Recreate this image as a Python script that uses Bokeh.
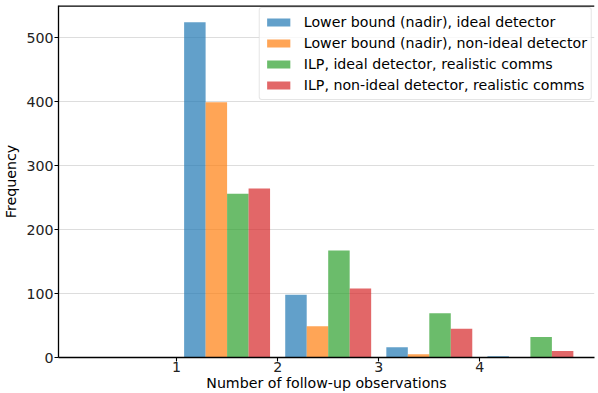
from bokeh.plotting import figure
from bokeh.models import ColumnDataSource, Range1d, FixedTicker, Legend, LegendItem, Span
from bokeh.transform import dodge
from bokeh.embed import file_html
from bokeh.resources import INLINE

# Data
bin_centers = [1.5, 2.5, 3.5, 4.5]
series_names = [
    "Lower bound (nadir), ideal detector",
    "Lower bound (nadir), non-ideal detector",
    "ILP, ideal detector, realistic comms",
    "ILP, non-ideal detector, realistic comms",
]
lb_ideal = [524, 98, 16, 2]
lb_nonideal = [399, 49, 5, 0]
ilp_ideal = [256, 167, 69, 32]
ilp_nonideal = [264, 108, 45, 10]
x_ticks = [1, 2, 3, 4]
y_ticks = [0, 100, 200, 300, 400, 500]
y_max = 550

colors = ["#1f77b4", "#ff7f0e", "#2ca02c", "#d62728"]
series = [lb_ideal, lb_nonideal, ilp_ideal, ilp_nonideal]

FONT = "DejaVu Sans"
FS = "14.2px"

p = figure(width=598, height=393, output_backend="svg", toolbar_location=None,
           x_range=Range1d(-0.1675, 5.134), y_range=Range1d(0, y_max),
           min_border_left=57, min_border_right=4, min_border_top=5, min_border_bottom=36)

source = ColumnDataSource(dict(x=bin_centers, s0=series[0], s1=series[1], s2=series[2], s3=series[3]))

bw = 0.85 / 4
offsets = [-1.5 * bw, -0.5 * bw, 0.5 * bw, 1.5 * bw]
items = []
for i in range(4):
    r = p.vbar(x=dodge("x", offsets[i], range=p.x_range), top="s%d" % i, width=bw, bottom=0,
               source=source, fill_color=colors[i], fill_alpha=0.7, line_color=None)
    items.append(LegendItem(label=series_names[i], renderers=[r]))

legend = Legend(items=items, location="top_right")
legend.label_text_font = FONT
legend.label_text_font_size = FS
legend.label_text_color = "#000000"
legend.glyph_width = 29
legend.glyph_height = 10
legend.label_height = 20
legend.label_standoff = 11
legend.spacing = 1
legend.padding = 4
legend.margin = 2
legend.border_line_color = "#cccccc"
legend.border_line_width = 1
legend.border_radius = 3
legend.background_fill_color = "white"
legend.background_fill_alpha = 0.8
p.add_layout(legend)

for ax in [p.xaxis[0], p.yaxis[0]]:
    ax.axis_line_color = "black"
    ax.axis_line_width = 1.3
    ax.major_tick_line_color = "black"
    ax.major_tick_line_width = 1.1
    ax.major_tick_out = 4
    ax.major_tick_in = 0
    ax.minor_tick_line_color = None
    ax.major_label_text_font = FONT
    ax.major_label_text_font_size = FS
    ax.major_label_text_color = "#222222"
    ax.axis_label_text_font = FONT
    ax.axis_label_text_font_size = FS
    ax.axis_label_text_font_style = "normal"
    ax.axis_label_text_color = "black"

p.xaxis[0].ticker = FixedTicker(ticks=x_ticks)
p.yaxis[0].ticker = FixedTicker(ticks=y_ticks)
p.xaxis[0].axis_label = "Number of follow-up observations"
p.yaxis[0].axis_label = "Frequency"
p.xaxis[0].major_label_standoff = 0
p.xaxis[0].axis_label_standoff = 0
p.yaxis[0].major_label_standoff = 1
p.yaxis[0].axis_label_standoff = 4

p.add_layout(Span(location=y_max, dimension="width", line_color="black", line_width=2.6))

p.xgrid.grid_line_color = None
p.ygrid.grid_line_color = "#dddddd"
p.ygrid.grid_line_width = 1
p.outline_line_color = None
p.background_fill_color = "white"
p.border_fill_color = "white"

open("out.html", "w").write(file_html(p, INLINE))
